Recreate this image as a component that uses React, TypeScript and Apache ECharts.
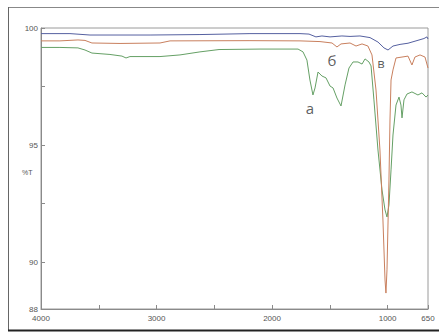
import React, { useEffect, useRef } from "react";
import * as echarts from "echarts";

const blueWn = [4000, 3749, 3576, 3056, 2624, 2191, 1758, 1680, 1620, 1568, 1498, 1395, 1325, 1239, 1152, 1083, 1031, 996, 953, 892, 823, 754, 685, 659, 650];
const blueT = [99.76, 99.76, 99.7, 99.7, 99.72, 99.76, 99.76, 99.74, 99.62, 99.66, 99.62, 99.66, 99.64, 99.66, 99.59, 99.4, 99.15, 99.06, 99.23, 99.3, 99.35, 99.45, 99.55, 99.62, 99.53];

const orangeWn = [4000, 3836, 3680, 3619, 3559, 3316, 2970, 2883, 2191, 1758, 1585, 1481, 1438, 1403, 1325, 1273, 1221, 1170, 1135, 1100, 1066, 1040, 1022, 1014, 1005, 988, 979, 970, 953, 927, 875, 823, 789, 763, 719, 676, 650];
const orangeT = [99.45, 99.45, 99.49, 99.47, 99.36, 99.34, 99.36, 99.45, 99.46, 99.45, 99.42, 99.36, 99.19, 99.32, 99.36, 99.23, 99.32, 99.23, 98.85, 97.35, 94.79, 91.8, 89.24, 88.68, 89.67, 93.51, 96.07, 97.78, 98.21, 98.72, 98.76, 98.8, 98.42, 98.76, 98.85, 98.76, 98.29];

const greenWn = [4000, 3836, 3680, 3619, 3559, 3403, 3299, 3264, 3230, 2970, 2797, 2624, 2459, 2104, 1775, 1732, 1698, 1672, 1646, 1628, 1602, 1568, 1533, 1498, 1472, 1438, 1403, 1368, 1334, 1299, 1256, 1221, 1195, 1161, 1143, 1118, 1083, 1048, 1022, 1005, 988, 970, 953, 927, 901, 884, 875, 858, 832, 789, 737, 702, 667, 650];
const greenT = [99.17, 99.17, 99.15, 99.06, 98.93, 98.87, 98.8, 98.72, 98.78, 98.78, 98.85, 98.98, 99.08, 99.1, 99.1, 98.98, 98.63, 97.78, 97.14, 97.44, 98.12, 97.95, 97.87, 97.52, 97.44, 97.01, 96.67, 97.57, 98.29, 98.55, 98.55, 98.46, 98.68, 98.55, 98.38, 96.93, 94.79, 93.08, 92.23, 91.93, 92.44, 93.94, 95.43, 96.71, 97.05, 96.71, 96.16, 96.93, 97.18, 97.27, 97.14, 97.23, 97.05, 97.14];

const xLabelValues = [4000, 3000, 2000, 1000, 650];
const xTickValues = [4000, 3500, 3000, 2500, 2000, 1500, 1000, 650];
const yLabelValues = [88, 90, 95, 100];
const yTickValues = [90, 92.5, 95, 97.5, 100];

const annotNames = ["а", "б", "в"];
const annotWn = [1672, 1481, 1057];
const annotT = [96.58, 98.63, 98.51];
const annotSizes = [15, 15, 13];

const zip = (xs: number[], ys: number[]) => xs.map((x, i) => [x, ys[i]]);

export default function App() {
  const ref = useRef<HTMLDivElement>(null);
  useEffect(() => {
    document.body.style.margin = "0";
    const chart = echarts.init(ref.current!, undefined, { renderer: "svg" });
    const labelFont = "'Liberation Sans Narrow', 'Liberation Sans', sans-serif";
    chart.setOption({
      animation: false,
      backgroundColor: "#ffffff",
      grid: {
        left: 41,
        top: 28,
        right: 11,
        bottom: 27,
        show: true,
        borderColor: "#9a9a9a",
        borderWidth: 1,
      },
      xAxis: {
        type: "value",
        inverse: true,
        min: 650,
        max: 4000,
        splitLine: { show: false },
        axisLine: { lineStyle: { color: "#8a8a8a", width: 1 } },
        axisTick: {
          inside: true,
          length: 4,
          customValues: xTickValues,
          lineStyle: { color: "#8a8a8a" },
        },
        axisLabel: {
          customValues: xLabelValues,
          formatter: (v: number) => String(v),
          color: "#555",
          fontSize: 8,
          fontFamily: labelFont,
          margin: 5,
          showMinLabel: true,
          showMaxLabel: true,
        },
      },
      yAxis: {
        type: "value",
        min: 88,
        max: 100,
        splitLine: { show: false },
        axisLine: { show: true, lineStyle: { color: "#8a8a8a", width: 1 } },
        axisTick: {
          show: true,
          inside: true,
          length: 4,
          customValues: yTickValues,
          lineStyle: { color: "#8a8a8a" },
        },
        axisLabel: {
          customValues: yLabelValues,
          formatter: (v: number) => String(v),
          color: "#555",
          fontSize: 8,
          fontFamily: labelFont,
          margin: 3,
          showMinLabel: true,
          showMaxLabel: true,
        },
      },
      series: [
        {
          type: "line",
          name: "blue",
          data: zip(blueWn, blueT),
          showSymbol: false,
          lineStyle: { color: "#5560a0", width: 1 },
          z: 3,
        },
        {
          type: "line",
          name: "orange",
          data: zip(orangeWn, orangeT),
          showSymbol: false,
          lineStyle: { color: "#c9805e", width: 1 },
          z: 2,
        },
        {
          type: "line",
          name: "green",
          data: zip(greenWn, greenT),
          showSymbol: false,
          lineStyle: { color: "#65a065", width: 1 },
          z: 1,
        },
        {
          type: "scatter",
          name: "annot",
          symbolSize: 1,
          itemStyle: { color: "rgba(0,0,0,0)" },
          data: annotNames.map((n, i) => ({
            name: n,
            value: [annotWn[i], annotT[i]],
            label: { fontSize: annotSizes[i] },
          })),
          label: {
            show: true,
            position: "inside",
            formatter: (p: any) => p.name,
            color: "#333",
            fontFamily: "'Open Sans', 'DejaVu Sans', sans-serif",
          },
          z: 5,
        },
      ],
      graphic: [
        {
          type: "text",
          left: 22,
          top: 169,
          style: { text: "%T", fill: "#555", fontSize: 7, fontFamily: labelFont },
        },
        {
          type: "line",
          shape: { x1: 8, y1: 7.5, x2: 439, y2: 7.5 },
          style: { stroke: "#888", lineWidth: 1 },
        },
        {
          type: "line",
          shape: { x1: 8.5, y1: 7, x2: 8.5, y2: 331 },
          style: { stroke: "#666", lineWidth: 1 },
        },
        {
          type: "line",
          shape: { x1: 8, y1: 330.5, x2: 439, y2: 330.5 },
          style: { stroke: "#222", lineWidth: 2 },
        },
      ],
    });
    return () => chart.dispose();
  }, []);
  return (
    <div
      ref={ref}
      style={{ width: 439, height: 336, position: "absolute", left: 0, top: 0 }}
    />
  );
}
